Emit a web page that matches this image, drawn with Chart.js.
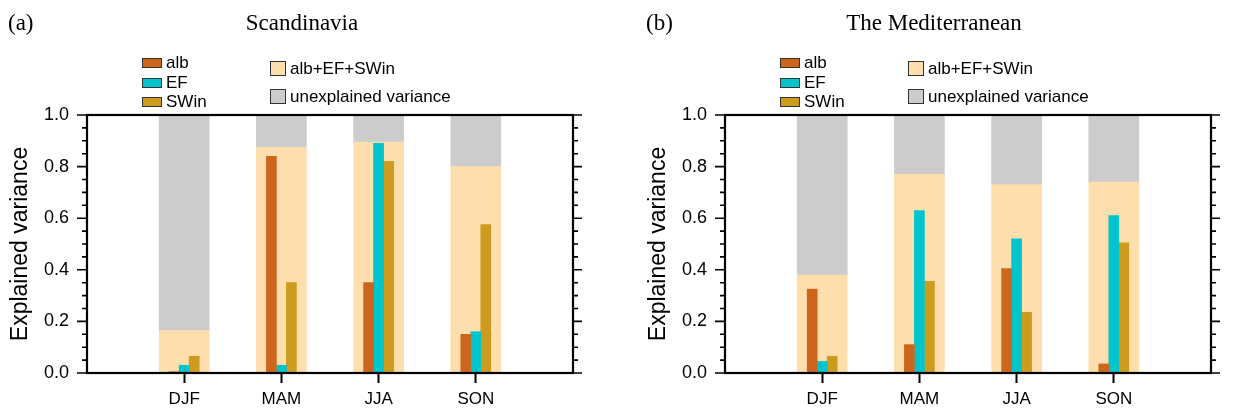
<!DOCTYPE html>
<html><head><meta charset="utf-8">
<script src="https://cdn.jsdelivr.net/npm/chart.js@4.4.1/dist/chart.umd.min.js"></script>
<style>
html,body{margin:0;padding:0;background:#fff;width:1234px;height:415px;overflow:hidden;}
canvas{position:absolute;top:0;}
#ca{left:0;}
#cb{left:638px;}
</style></head><body>
<canvas id="ca" width="617" height="415"></canvas>
<canvas id="cb" width="596" height="415"></canvas>
<script>
// ---- data ----
const seasons = ['DJF', 'MAM', 'JJA', 'SON'];
const totalVariance = [1.0, 1.0, 1.0, 1.0];

// (a) Scandinavia
const albScan  = [0.005, 0.84, 0.35, 0.15];
const efScan   = [0.03, 0.03, 0.89, 0.16];
const swinScan = [0.065, 0.35, 0.82, 0.575];
const explScan = [0.165, 0.875, 0.895, 0.80];

// (b) The Mediterranean
const albMed  = [0.325, 0.11, 0.405, 0.035];
const efMed   = [0.045, 0.63, 0.52, 0.61];
const swinMed = [0.065, 0.355, 0.235, 0.505];
const explMed = [0.38, 0.77, 0.73, 0.74];

const yTickValues = [0, 0.2, 0.4, 0.6, 0.8, 1.0];

// ---- helpers ----
const SANS = "'Liberation Sans', Arial, Helvetica, sans-serif";
const SERIF = "'Liberation Serif', 'Times New Roman', serif";
const xLabels = ['', ...seasons, ''];
const padEnds = arr => [null, ...arr, null];

const COLORS = {
  alb: '#CD661D', ef: '#00C5CD', swin: '#CD9B1D', expl: '#FFDEAD', unexpl: '#CCCCCC'
};

function makeDatasets(alb, ef, swin, expl) {
  return [
    {label: 'alb', data: padEnds(alb), backgroundColor: COLORS.alb, barThickness: 10, grouped: true},
    {label: 'EF', data: padEnds(ef), backgroundColor: COLORS.ef, barThickness: 10, grouped: true},
    {label: 'SWin', data: padEnds(swin), backgroundColor: COLORS.swin, barThickness: 10, grouped: true},
    {label: 'alb+EF+SWin', data: padEnds(expl), backgroundColor: COLORS.expl, barThickness: 50, grouped: false},
    {label: 'unexplained variance', data: padEnds(expl.map((v, i) => [v, totalVariance[i]])),
     backgroundColor: COLORS.unexpl, barThickness: 50, grouped: false}
  ];
}

const frameTicks = {
  id: 'frameTicks',
  afterDatasetsDraw(chart) {
    const {ctx, chartArea: a} = chart;
    const y = chart.scales.y;
    ctx.save();
    ctx.strokeStyle = '#000';
    ctx.lineWidth = 1.6;
    ctx.beginPath();
    const steps = 20;
    for (let k = 0; k <= steps; k++) {
      const v = y.min + (y.max - y.min) * k / steps;
      const py = y.getPixelForValue(v);
      const major = k % 4 === 0;
      const lenL = major ? 10 : 5, lenR = major ? 9 : 5;
      ctx.moveTo(a.left - lenL, py); ctx.lineTo(a.left, py);
      ctx.moveTo(a.right, py); ctx.lineTo(a.right + lenR, py);
    }
    ctx.stroke();
    ctx.lineWidth = 2.2;
    ctx.strokeRect(a.left, a.top, a.right - a.left, a.bottom - a.top);
    ctx.restore();
  }
};

const panelLegend = {
  id: 'panelLegend',
  afterDraw(chart, args, opts) {
    const ctx = chart.ctx, ds = chart.data.datasets;
    ctx.save();
    ctx.font = opts.size + 'px ' + SANS;
    ctx.textBaseline = 'middle';
    ctx.textAlign = 'left';
    (opts.items || []).forEach(it => {
      const d = ds[it.dataset];
      const top = Math.round(it.y - it.h / 2);
      ctx.fillStyle = d.backgroundColor;
      ctx.fillRect(it.x, top, it.w, it.h);
      ctx.strokeStyle = '#333';
      ctx.lineWidth = 1;
      ctx.strokeRect(it.x + 0.5, top + 0.5, it.w, it.h);
      ctx.fillStyle = '#000';
      ctx.fillText(d.label, it.x + it.w + 5, it.y + 1);
    });
    ctx.restore();
  }
};

const panelTitle = {
  id: 'panelTitle',
  afterDraw(chart, args, opts) {
    const ctx = chart.ctx;
    ctx.save();
    ctx.fillStyle = '#000';
    ctx.font = opts.size + 'px ' + SERIF;
    ctx.textBaseline = 'alphabetic';
    ctx.textAlign = 'left';
    ctx.fillText(opts.panel, opts.panelX, opts.baseline);
    ctx.textAlign = 'center';
    ctx.fillText(opts.text, opts.titleX, opts.baseline);
    ctx.restore();
  }
};

function makeChart(id, panel, title, titleX, datasets, rightPad) {
  return new Chart(document.getElementById(id), {
    type: 'bar',
    data: {labels: xLabels, datasets},
    plugins: [frameTicks, panelLegend, panelTitle],
    options: {
      responsive: false,
      animation: false,
      events: [],
      layout: {padding: {top: 115, right: rightPad, bottom: 0, left: 0}},
      plugins: {
        legend: {display: false},
        tooltip: {enabled: false},
        panelTitle: {panel, text: title, size: 23, panelX: 8, baseline: 30, titleX},
        panelLegend: {size: 17, items: [
          {dataset: 0, x: 142, y: 62, w: 19, h: 9},
          {dataset: 1, x: 142, y: 82, w: 19, h: 9},
          {dataset: 2, x: 142, y: 101, w: 19, h: 9},
          {dataset: 3, x: 270, y: 68, w: 15, h: 14},
          {dataset: 4, x: 270, y: 96, w: 15, h: 14}
        ]}
      },
      scales: {
        x: {
          type: 'category',
          offset: false,
          stacked: false,
          grid: {
            display: true, offset: false, drawOnChartArea: false, drawTicks: true,
            tickLength: 10, tickWidth: 2,
            tickColor: c => (c.tick && c.tick.label) ? '#000' : 'rgba(0,0,0,0)'
          },
          border: {display: false},
          ticks: {autoSkip: false, maxRotation: 0, padding: 6, color: '#000', font: {family: SANS, size: 17}},
          afterFit(s) { s.height = 42; }
        },
        y: {
          min: 0, max: 1, stacked: false,
          afterBuildTicks(s) { s.ticks = yTickValues.map(v => ({value: v})); },
          ticks: {callback: v => Number(v).toFixed(1), color: '#000', padding: 8, font: {family: SANS, size: 18}},
          grid: {drawOnChartArea: false, drawTicks: true, tickLength: 10, tickColor: 'rgba(0,0,0,0)'},
          border: {display: false},
          title: {display: true, text: 'Explained variance', color: '#000',
                  font: {family: SANS, size: 23}, padding: {top: 7, bottom: 0}},
          afterFit(s) { s.width = 87; }
        }
      }
    }
  });
}

makeChart('ca', '(a)', 'Scandinavia', 302, makeDatasets(albScan, efScan, swinScan, explScan), 44);
makeChart('cb', '(b)', 'The Mediterranean', 296, makeDatasets(albMed, efMed, swinMed, explMed), 23);
</script>
</body></html>
